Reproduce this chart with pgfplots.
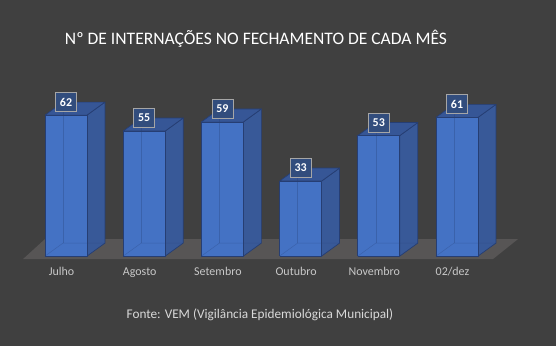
\documentclass[border=0pt]{standalone}
\usepackage{pgfplots}
\usepackage{pgfplotstable}
\pgfplotsset{compat=1.18}
\usepackage{fontspec}
\setmainfont{Carlito}
\definecolor{bg}{RGB}{64,64,64}
\definecolor{front}{RGB}{68,114,196}
\definecolor{side}{RGB}{56,89,152}
\definecolor{topc}{RGB}{54,86,150}
\definecolor{edge}{RGB}{38,62,115}
\definecolor{floorc}{RGB}{87,85,85}
\definecolor{lblbg}{RGB}{50,77,125}
\definecolor{lblbd}{RGB}{166,166,166}
\definecolor{ticktext}{RGB}{200,200,200}
\definecolor{srctext}{RGB}{217,217,217}

\pgfplotstableread{
x v
0 62
1 55
2 59
3 33
4 53
5 61
}\datatable

\newcommand\hw{0.2685}
\newcommand\ddx{0.230}
\newcommand\ddy{5.72}

\newcommand\drawbar[1]{%
 \pgfplotstablegetelem{#1}{v}\of\datatable
 \pgfmathsetmacro\vv{\pgfplotsretval}%
 \pgfmathsetmacro\xl{#1-\hw}%
 \pgfmathsetmacro\xr{#1+\hw}%
 \pgfmathsetmacro\xld{\xl+\ddx}%
 \pgfmathsetmacro\xrd{\xr+\ddx}%
 \pgfmathsetmacro\vt{\vv+\ddy}%
 \edef\tmp{%
  \noexpand\addplot[fill=side, draw=edge, line width=0.7bp, line join=round] coordinates {(\xr,0) (\xrd,\ddy) (\xrd,\vt) (\xr,\vv) (\xr,0)};
  \noexpand\addplot[fill=topc, draw=edge, line width=0.7bp, line join=round] coordinates {(\xl,\vv) (\xr,\vv) (\xrd,\vt) (\xld,\vt) (\xl,\vv)};
  \noexpand\addplot[fill=front, draw=edge, line width=0.7bp, line join=round] coordinates {(\xl,0) (\xr,0) (\xr,\vv) (\xl,\vv) (\xl,0)};
  \noexpand\addplot[draw=edge, line width=0.5bp, opacity=0.3] coordinates {(\xl,0) (\xld,\ddy) (\xrd,\ddy)};
  \noexpand\addplot[draw=edge, line width=0.5bp, opacity=0.3] coordinates {(\xld,\ddy) (\xld,\vt)};
 }\tmp
}

\begin{document}
\begin{tikzpicture}
\begin{axis}[
 scale only axis, width=556bp, height=346bp,
 xmin=-0.8440, xmax=6.2660, ymin=-39.58, ymax=112.58,
 axis background/.style={fill=bg},
 axis line style={draw=none},
 /pgf/number format/assume math mode=true,
 ytick=\empty,
 xtick={0,...,5}, xticklabels={Julho,Agosto,Setembro,Outubro,Novembro,02/dez},
 major tick length=0pt,
 xticklabel style={anchor=center, yshift=74bp, xshift=-4.5bp, text=ticktext, font=\fontsize{12}{12}\selectfont, text height=8.5bp, text depth=2.5bp},
 clip=false,
]
\addplot[fill=floorc, draw=none] coordinates {(-0.550,-1.32) (5.460,-1.32) (5.780,7.48) (-0.269,7.48)};
\drawbar{0}
\drawbar{1}
\drawbar{2}
\drawbar{3}
\drawbar{4}
\drawbar{5}
\addplot[draw=none, mark=none, nodes near coords, point meta=explicit,
  nodes near coords style={anchor=center, fill=lblbg, draw=lblbd, line width=0.8bp, text=white,
   font=\bfseries\fontsize{12}{12}\selectfont, inner sep=0pt, minimum width=21bp, minimum height=19bp}]
  table[x=x, y expr=\thisrow{v}+5.72, meta=v]{\datatable};
\node[text=white, font=\fontsize{17.6}{19}\selectfont] at (rel axis cs:0.4604,0.8870) {Nº DE INTERNAÇÕES NO FECHAMENTO DE CADA MÊS};
\node[text=srctext, font=\fontsize{13.3}{14}\selectfont] at (rel axis cs:0.4676,0.0896) {Fonte: VEM (Vigilância Epidemiológica Municipal)};
\end{axis}
\end{tikzpicture}
\end{document}
